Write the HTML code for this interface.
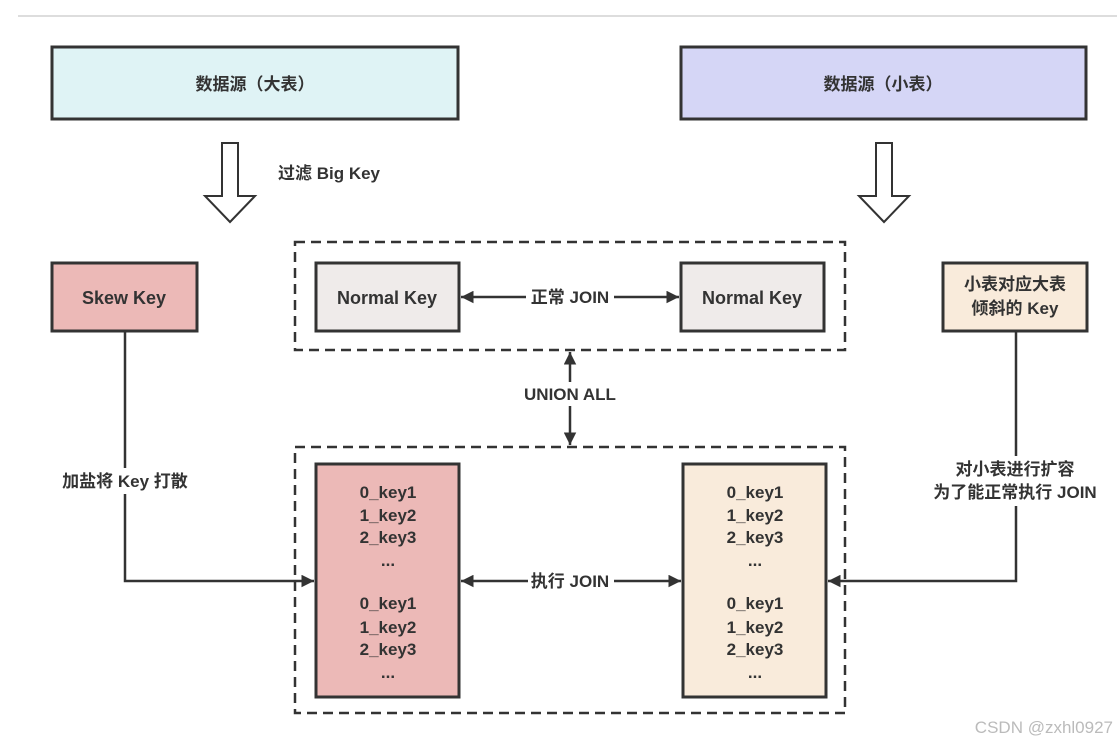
<!DOCTYPE html>
<html><head><meta charset="utf-8"><style>
body{margin:0;background:#fff;}
svg text{font-family:"Liberation Sans","Noto Sans CJK SC",sans-serif;font-weight:bold;fill:#333;font-size:17px;}
</style></head><body>
<svg width="1117" height="744" viewBox="0 0 1117 744" xmlns="http://www.w3.org/2000/svg">
<defs>
<marker id="a" viewBox="0 0 10 10" refX="10" refY="5" markerWidth="5" markerHeight="5" orient="auto-start-reverse"><path d="M0,0L10,5L0,10z" fill="#333"/></marker>
</defs>
<line x1="18" y1="16" x2="1117" y2="16" stroke="#ddd" stroke-width="2"/>
<g stroke="#333" stroke-width="3">
<rect x="52" y="47" width="406" height="72" fill="#dff3f5"/>
<rect x="681" y="47" width="405" height="72" fill="#d5d6f6"/>
<rect x="52" y="263" width="145" height="68" fill="#ecb9b7"/>
<rect x="316" y="263" width="143" height="68" fill="#efebea"/>
<rect x="681" y="263" width="143" height="68" fill="#efebea"/>
<rect x="943" y="263" width="144" height="68" fill="#f9ebdb"/>
<rect x="316" y="464" width="143" height="233" fill="#ecb9b7"/>
<rect x="683" y="464" width="143" height="233" fill="#f9ebdb"/>
</g>
<g fill="none" stroke="#333" stroke-width="2.5" stroke-dasharray="10,6">
<rect x="295" y="242" width="550" height="108"/>
<rect x="295" y="447" width="550" height="266"/>
</g>
<g fill="#fff" stroke="#333" stroke-width="2">
<path d="M222,143H238V196H255L230,222L205,196H222Z"/>
<path d="M876,143H892V196H909L884,222L859,196H876Z"/>
</g>
<g stroke="#333" stroke-width="2.5" fill="none">
<path d="M125,331V581H314" marker-end="url(#a)"/>
<path d="M1016,331V581H828" marker-end="url(#a)"/>
<line x1="461" y1="297" x2="679" y2="297" marker-start="url(#a)" marker-end="url(#a)"/>
<line x1="461" y1="581" x2="681" y2="581" marker-start="url(#a)" marker-end="url(#a)"/>
<line x1="570" y1="352" x2="570" y2="445" marker-start="url(#a)" marker-end="url(#a)"/>
</g>
<g fill="#fff">
<rect x="526" y="285" width="88" height="24"/>
<rect x="528" y="569" width="86" height="24"/>
<rect x="514" y="382" width="112" height="24"/>
<rect x="56" y="468" width="140" height="26"/>
<rect x="920" y="456" width="190" height="50"/>
</g>
<g text-anchor="middle">
<text x="255" y="90">数据源（大表）</text>
<text x="883" y="90">数据源（小表）</text>
<text x="124" y="304" style="font-size:18px">Skew Key</text>
<text x="387" y="304" style="font-size:18px">Normal Key</text>
<text x="752" y="304" style="font-size:18px">Normal Key</text>
<text x="1015" y="290">小表对应大表</text>
<text x="1015" y="314">倾斜的 Key</text>
<text x="570" y="303">正常 JOIN</text>
<text x="570" y="587">执行 JOIN</text>
<text x="570" y="400">UNION ALL</text>
<text x="125" y="487">加盐将 Key 打散</text>
<text x="1015" y="475">对小表进行扩容</text>
<text x="1015" y="498">为了能正常执行 JOIN</text>
<g>
<text x="388" y="498">0_key1</text><text x="388" y="521">1_key2</text><text x="388" y="543">2_key3</text><text x="388" y="566">...</text>
<text x="388" y="609">0_key1</text><text x="388" y="633">1_key2</text><text x="388" y="655">2_key3</text><text x="388" y="678">...</text>
<text x="755" y="498">0_key1</text><text x="755" y="521">1_key2</text><text x="755" y="543">2_key3</text><text x="755" y="566">...</text>
<text x="755" y="609">0_key1</text><text x="755" y="633">1_key2</text><text x="755" y="655">2_key3</text><text x="755" y="678">...</text>
</g>
</g>
<text x="278" y="179">过滤 Big Key</text>
<text x="1113" y="733" text-anchor="end" style="font-weight:normal;fill:#bbb;font-size:17px">CSDN @zxhl0927</text>
</svg>
</body></html>
